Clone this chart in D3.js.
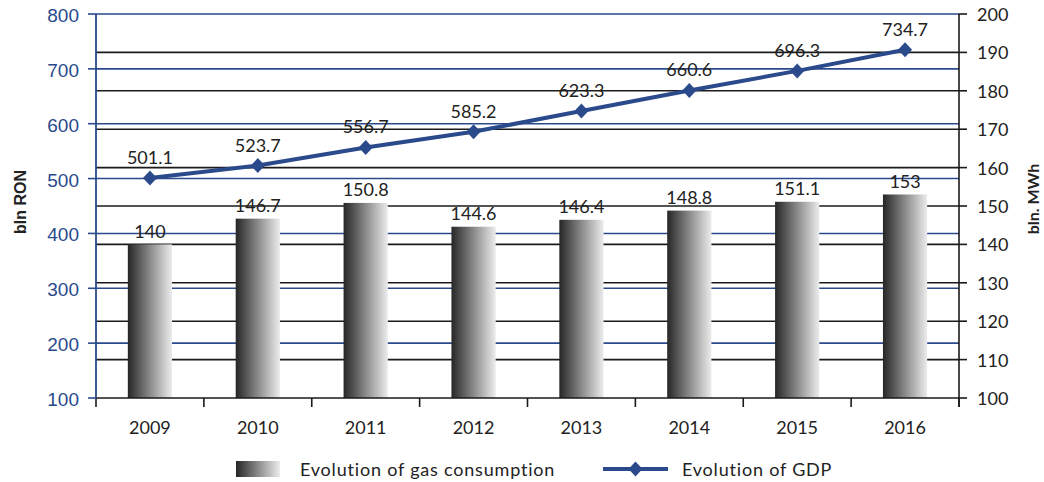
<!DOCTYPE html>
<html><head><meta charset="utf-8">
<script src="https://cdn.jsdelivr.net/npm/d3@7"></script>
<style>body{margin:0;background:#fff}svg{display:block}</style>
</head><body>
<script>
const years = ["2009","2010","2011","2012","2013","2014","2015","2016"];
const gas = [140,146.7,150.8,144.6,146.4,148.8,151.1,153];
const gdp = [501.1,523.7,556.7,585.2,623.3,660.6,696.3,734.7];
const leftTicks = [100,200,300,400,500,600,700,800];
const rightTicks = [100,110,120,130,140,150,160,170,180,190,200];

const W=1044,H=482, x0=96, x1=959, yT=14, yB=398;
const blue="#2a4a8c", dark="#222";
const FONT="Lato, 'Open Sans', sans-serif";
const svg=d3.select("body").append("svg").attr("width",W).attr("height",H);
const defs=svg.append("defs");
const g=defs.append("linearGradient").attr("id","bg").attr("x1","0").attr("x2","1").attr("y1","0").attr("y2","0");
g.append("stop").attr("offset","0").attr("stop-color","#262626");
g.append("stop").attr("offset","0.5").attr("stop-color","#8a8a8a");
g.append("stop").attr("offset","1").attr("stop-color","#ececec");

const x=d3.scaleBand().domain(years).range([x0,x1]).paddingInner(0.59).paddingOuter(0.295);
const xb=d3.scaleBand().domain(years).range([x0,x1]);
const yL=d3.scaleLinear().domain([100,800]).range([yB,yT]);
const yR=d3.scaleLinear().domain([100,200]).range([yB,yT]);

// gridlines
svg.append("g").selectAll("line").data(rightTicks.filter(d=>d>100&&d<200)).join("line")
 .attr("x1",x0).attr("x2",x1).attr("y1",d=>yR(d)).attr("y2",d=>yR(d)).attr("stroke","#1a1a1a").attr("stroke-width",1.6);
svg.append("g").selectAll("line").data(leftTicks.filter(d=>d>100)).join("line")
 .attr("x1",x0).attr("x2",x1).attr("y1",d=>yL(d)).attr("y2",d=>yL(d)).attr("stroke",blue).attr("stroke-width",1.6);

// bars
svg.append("g").selectAll("rect").data(gas).join("rect")
 .attr("x",(d,i)=>x(years[i])).attr("width",x.bandwidth())
 .attr("y",d=>yR(d)).attr("height",d=>yB-yR(d)).attr("fill","url(#bg)");
svg.append("g").selectAll("text").data(gas).join("text")
 .attr("x",(d,i)=>x(years[i])+x.bandwidth()/2).attr("y",d=>yR(d)-6.5)
 .attr("text-anchor","middle").attr("font-family",FONT).attr("font-size",18).attr("fill",dark)
 .text(d=>d);

// x axis
svg.append("line").attr("x1",x0).attr("x2",x1).attr("y1",yB).attr("y2",yB).attr("stroke","#1a1a1a").attr("stroke-width",1.6);
const bounds=years.map(d=>xb(d)).concat([x1]);
svg.append("g").selectAll("line").data(bounds).join("line")
 .attr("x1",d=>d).attr("x2",d=>d).attr("y1",yB).attr("y2",yB+9).attr("stroke","#1a1a1a").attr("stroke-width",1.6);
svg.append("g").selectAll("text").data(years).join("text")
 .attr("x",d=>xb(d)+xb.bandwidth()/2).attr("y",434).attr("text-anchor","middle")
 .attr("font-family",FONT).attr("font-size",18).attr("fill",dark).text(d=>d);

// left axis
svg.append("line").attr("x1",x0).attr("x2",x0).attr("y1",yT).attr("y2",yB).attr("stroke",blue).attr("stroke-width",1.8);
svg.append("g").selectAll("line").data(leftTicks).join("line")
 .attr("x1",x0-8).attr("x2",x0).attr("y1",d=>yL(d)).attr("y2",d=>yL(d)).attr("stroke",blue).attr("stroke-width",1.6);
svg.append("g").selectAll("text").data(leftTicks).join("text")
 .attr("x",x0-17).attr("y",d=>yL(d)+8).attr("text-anchor","end")
 .attr("font-family","'Liberation Sans', Arial, sans-serif").attr("font-size",19).attr("fill",blue).text(d=>d);

// right axis
svg.append("line").attr("x1",x1).attr("x2",x1).attr("y1",yT).attr("y2",yB+9).attr("stroke","#1a1a1a").attr("stroke-width",1.6);
svg.append("g").selectAll("line").data(rightTicks).join("line")
 .attr("x1",x1).attr("x2",x1+8).attr("y1",d=>yR(d)).attr("y2",d=>yR(d)).attr("stroke","#1a1a1a").attr("stroke-width",1.6);
svg.append("g").selectAll("text").data(rightTicks).join("text")
 .attr("x",x1+18).attr("y",d=>yR(d)+7).attr("text-anchor","start")
 .attr("font-family",FONT).attr("font-size",18).attr("fill",dark).text(d=>d);

// axis titles
svg.append("text").attr("transform","translate(26,202) rotate(-90)").attr("text-anchor","middle")
 .attr("font-family","'Liberation Sans', Arial, sans-serif").attr("font-weight","bold").attr("font-size",16).attr("fill",dark).text("bln RON");
svg.append("text").attr("transform","translate(1039,199) rotate(-90)").attr("text-anchor","middle")
 .attr("font-family",FONT).attr("font-weight","bold").attr("font-size",16).attr("fill",dark).text("bln. MWh");

// GDP line
const cx=i=>xb(years[i])+xb.bandwidth()/2;
const line=d3.line().x((d,i)=>cx(i)).y(d=>yL(d));
svg.append("path").datum(gdp).attr("d",line).attr("fill","none").attr("stroke",blue).attr("stroke-width",4);
const dia="M0,-7.5L7,0L0,7.5L-7,0Z";
svg.append("g").selectAll("path").data(gdp).join("path")
 .attr("transform",(d,i)=>`translate(${cx(i)},${yL(d)})`).attr("d",dia).attr("fill",blue);
svg.append("g").selectAll("text").data(gdp).join("text")
 .attr("x",(d,i)=>cx(i)).attr("y",d=>yL(d)-14).attr("text-anchor","middle")
 .attr("font-family",FONT).attr("font-size",18).attr("fill",dark).text(d=>d.toFixed(1));

// legend
svg.append("rect").attr("x",236).attr("y",461).attr("width",44).attr("height",16).attr("fill","url(#bg)");
svg.append("text").attr("x",300).attr("y",476).attr("font-family",FONT).attr("font-size",18).attr("letter-spacing",0.8).attr("fill",dark).text("Evolution of gas consumption");
svg.append("line").attr("x1",603).attr("x2",668).attr("y1",469).attr("y2",469).attr("stroke",blue).attr("stroke-width",4);
svg.append("path").attr("transform","translate(635.5,469)").attr("d",dia).attr("fill",blue);
svg.append("text").attr("x",682).attr("y",476).attr("font-family",FONT).attr("font-size",18).attr("letter-spacing",0.8).attr("fill",dark).text("Evolution of GDP");
</script>
</body></html>
